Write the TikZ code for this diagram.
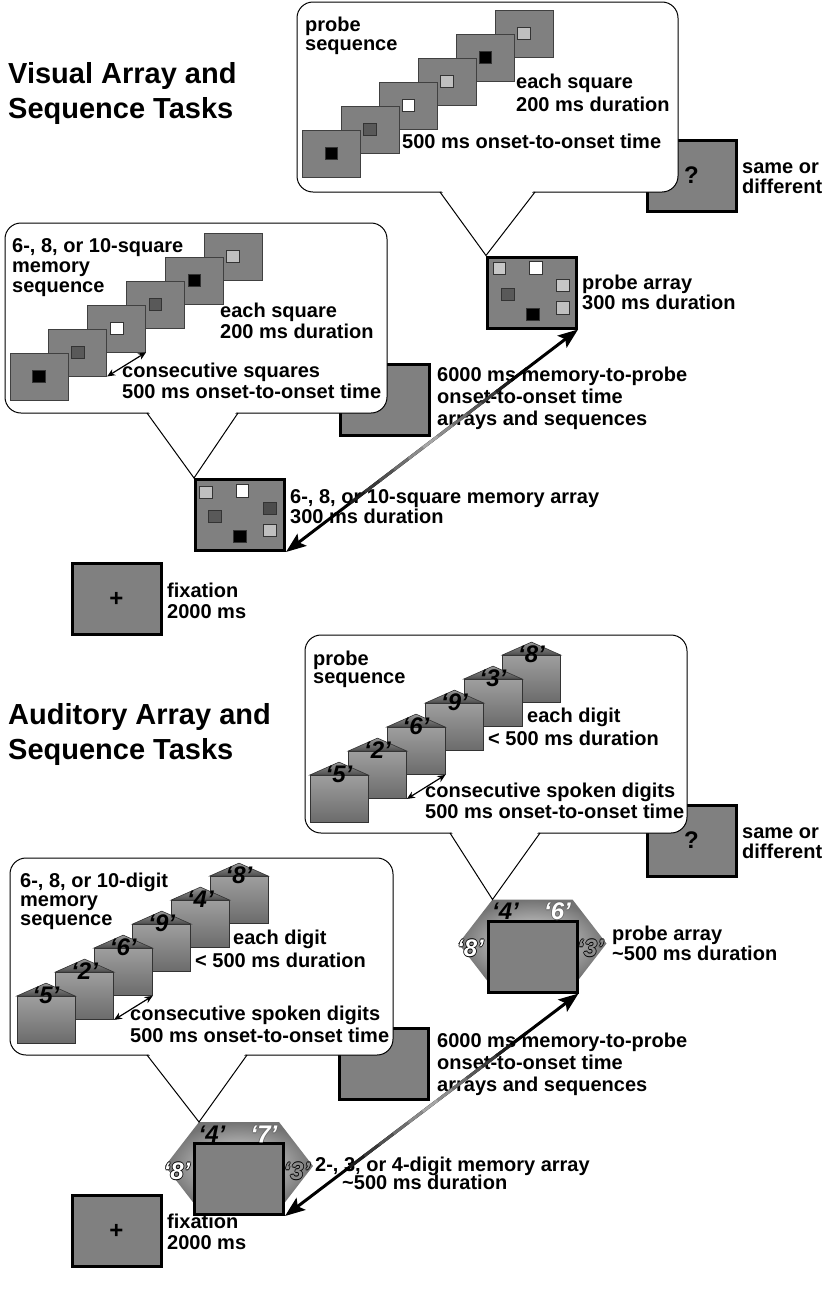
\documentclass[tikz,border=0pt]{standalone}
\usepackage{fontspec}
\setmainfont{Liberation Sans}
\usetikzlibrary{calc, positioning, arrows.meta, backgrounds}

% digit with a thin outline round it
\newcommand\outl[3]{\rlap{\color{#1}\kern-.8pt#3}\rlap{\color{#1}\kern.8pt#3}\rlap{\color{#1}\raisebox{.8pt}{#3}}\rlap{\color{#1}\raisebox{-.8pt}{#3}}\textcolor{#2}{#3}}

\tikzset{
  lbl/.style={font=\fontsize{20}{#1}\selectfont\bfseries, align=left, inner sep=0pt, anchor=base west},
  lbl/.default=21,
  ttl/.style={font=\fontsize{29}{35}\selectfont\bfseries, align=left, inner sep=0pt, anchor=base west},
  screen/.style={draw, line width=3pt, fill=black!50, minimum width=89pt, minimum height=71pt, inner sep=0pt, font=\fontsize{24}{24}\selectfont\bfseries},
  frame/.style={draw=black!75, line width=0.8pt, fill=black!50, minimum width=58pt, minimum height=47pt, inner sep=0pt},
  dot/.style={draw=black!80, line width=0.6pt, minimum size=12.5pt, inner sep=0pt},
  envl/.style={draw=black!80, line width=0.8pt, top color=black!38, bottom color=black!58, minimum width=58pt, minimum height=47pt, inner sep=0pt},
  flap/.style={draw=black!80, line width=0.6pt, top color=black!40, bottom color=black!70},
  digit/.style={font=\fontsize{24}{24}\selectfont\bfseries\itshape, inner sep=0pt},
  bubble/.style={draw, line width=1pt, fill=white, rounded corners=16pt},
  twoway/.style={line width=1.2pt, {Stealth[length=8pt,width=7pt]}-{Stealth[length=8pt,width=7pt]}},
  bigarrow/.style={line width=3pt, {Stealth[length=20pt,width=15pt,inset=4pt]}-{Stealth[length=20pt,width=15pt,inset=4pt]}},
}

\begin{document}
\begin{tikzpicture}[x=1pt, y=-1pt]
\useasboundingbox (0,0) rectangle (834,1301);

%% visual tasks (text nodes sit on the baseline of their last line)
\node[ttl] (vtitle) at (8,118) {Visual Array and\\Sequence Tasks};
\node[screen] (vq) at (691.5,175.5) {?};
\node[lbl=20] (vqtxt) at (742,193) {same or\\different};
\node[screen] (vd) at (385,400) {};
\node[lbl=22] (vdtxt) at (437,425) {6000 ms memory-to-probe\\onset-to-onset time\\arrays and sequences};
\node[screen] (vp) at (532,292.5) {};
\node[lbl=18] (vptxt) at (582,309) {probe array\\300 ms duration};
\node[screen] (vm) at (240,515) {};
\node[lbl=18] (vmtxt) at (290,523) {6-, 8, or 10-square memory array\\300 ms duration};
\node[screen] (vf) at (116.5,599) {+};
\node[lbl] (vftxt) at (167,618) {fixation\\2000 ms};
\foreach \dx/\dy/\c [count=\k] in {13.5/13/black!22,50/12.5/white,77/30/black!22,22/39/black!65,47/59/black,77/52.5/black!25}
  \node[dot, fill=\c] (vpa\k) at ($(vp.north west)+(\dx,\dy)$) {};
\foreach \dx/\dy/\c [count=\k] in {12/14.5/black!25,48.5/13/white,76/30.5/black!70,21/38.5/black!65,46/58.5/black,76/52.5/black!25}
  \node[dot, fill=\c] (vma\k) at ($(vm.north west)+(\dx,\dy)$) {};

% probe sequence
\draw[bubble] (297,2) rectangle (678,192);
\fill[white] (441,190) -- (vp.north west) -- (534,190) -- cycle;
\draw[line width=1pt] (440,192) -- (vp.north west) -- (535,192);
\foreach \i/\c in {6/black!25,5/black,4/black!25,3/white,2/black!65,1/black}{
  \node[frame] (vps\i) at ({331.5+(\i-1)*38.5},{153.5-(\i-1)*24}) {};
  \node[dot, fill=\c] (vpsd\i) at (vps\i) {};
}
\node[lbl=19] (vpstxt) at (305,50) {probe\\sequence};
\node[lbl=23] (vpeach) at (516,111) {each square\\200 ms duration};
\node[lbl] (vponset) at (402,148) {500 ms onset-to-onset time};

% memory sequence
\draw[bubble] (5,223) rectangle (387,413);
\fill[white] (148,411) -- (vm.north west) -- (237,411) -- cycle;
\draw[line width=1pt] (147,413) -- (vm.north west) -- (238,413);
\foreach \i/\c in {6/black!25,5/black,4/black!65,3/white,2/black!65,1/black}{
  \node[frame] (vms\i) at ({39+(\i-1)*38.8},{376.5-(\i-1)*24}) {};
  \node[dot, fill=\c] (vmsd\i) at (vms\i) {};
}
\draw[twoway] (vms2.south east) -- (vms3.south east);
\node[lbl=20] (vmstxt) at (12,292) {6-, 8, or 10-square\\memory\\sequence};
\node[lbl] (vmeach) at (220,338) {each square\\200 ms duration};
\node[lbl] (vmcons) at (122,398) {consecutive squares\\500 ms onset-to-onset time};

%% auditory tasks
\node[ttl] (atitle) at (8,759) {Auditory Array and\\Sequence Tasks};
\node[screen] (aq) at (691.5,840.5) {?};
\node[lbl=20] (aqtxt) at (742,858) {same or\\different};
\node[screen] (ad) at (383.5,1064) {};
\node[lbl=22] (adtxt) at (437,1091) {6000 ms memory-to-probe\\onset-to-onset time\\arrays and sequences};
\node[screen] (ap) at (532.5,956.5) {};
\node[lbl=18] (aptxt) at (612,960) {probe array\\\textasciitilde500 ms duration};
\node[screen] (am) at (239,1179) {};
\node[lbl] (amtxt) at (315,1171) {2-, 3, or 4-digit memory array};
\node[lbl] (amdur) at (342,1189) {\textasciitilde500 ms duration};
\node[screen] (af) at (116.5,1231) {+};
\node[lbl] (aftxt) at (167,1249) {fixation\\2000 ms};
\begin{scope}[on background layer]
\shade[inner color=black!8, outer color=black!55] ($(ap)+(-74,-13)$) -- ($(ap)+(-40,-57)$) -- ($(ap)+(40,-57)$) -- ($(ap)+(74,-13)$) -- ($(ap)+(40,31)$) -- ($(ap)+(-40,31)$) -- cycle;
\shade[inner color=black!8, outer color=black!55] ($(am)+(-74,-13)$) -- ($(am)+(-40,-57)$) -- ($(am)+(40,-57)$) -- ($(am)+(74,-13)$) -- ($(am)+(40,31)$) -- ($(am)+(-40,31)$) -- cycle;
\end{scope}
\coordinate (aphx) at ($(ap)+(-40,-57)$);
\coordinate (amhx) at ($(am)+(-40,-57)$);
\node[digit] (ap4) at ($(ap)+(-27,-45)$) {‘4’};
\node[digit] (ap6) at ($(ap)+(25,-45)$) {\outl{black!60}{white}{‘6’}};
\node[digit] (ap8) at ($(ap)+(-62,-8)$) {\outl{black}{white}{‘8’}};
\node[digit] (ap3) at ($(ap)+(58,-8)$) {\outl{black}{black!45}{‘3’}};
\node[digit] (am4) at ($(am)+(-27,-45)$) {‘4’};
\node[digit] (am7) at ($(am)+(25,-45)$) {\outl{black!60}{white}{‘7’}};
\node[digit] (am8) at ($(am)+(-62,-8)$) {\outl{black}{white}{‘8’}};
\node[digit] (am3) at ($(am)+(58,-8)$) {\outl{black}{black!45}{‘3’}};

% probe sequence
\draw[bubble] (305,635) rectangle (687,833);
\fill[white] (451,831) -- (aphx) -- (539,831) -- cycle;
\draw[line width=1pt] (450,833) -- (aphx) -- (540,833);
\foreach \i/\d in {6/8,5/3,4/9,3/6,2/2,1/5}{
  \node[envl] (aps\i) at ({339+(\i-1)*38.5},{799-(\i-1)*24}) {};
  \path[flap] (aps\i.north west) -- ($(aps\i.north)+(0,-13)$) -- (aps\i.north east) -- cycle;
  \node[digit] (apsd\i) at ($(aps\i.north)+(0,-1)$) {‘\d’};
}
\draw[twoway] (aps2.south east) -- (aps3.south east);
\node[lbl=18] (apstxt) at (313,683) {probe\\sequence};
\node[lbl] (apeach) at (527,722) {each digit};
\node[lbl] (apdur) at (488,745) {< 500 ms duration};
\node[lbl] (apcons) at (425,818) {consecutive spoken digits\\500 ms onset-to-onset time};

% memory sequence
\draw[bubble] (10,858) rectangle (393,1055);
\fill[white] (148,1053) -- (amhx) -- (246,1053) -- cycle;
\draw[line width=1pt] (147,1055) -- (amhx) -- (247,1055);
\foreach \i/\d in {6/8,5/4,4/9,3/6,2/2,1/5}{
  \node[envl] (ams\i) at ({46+(\i-1)*38.6},{1020-(\i-1)*24}) {};
  \path[flap] (ams\i.north west) -- ($(ams\i.north)+(0,-13)$) -- (ams\i.north east) -- cycle;
  \node[digit] (amsd\i) at ($(ams\i.north)+(0,-1)$) {‘\d’};
}
\draw[twoway] (ams2.south east) -- (ams3.south east);
\node[lbl=19] (amstxt) at (20,925) {6-, 8, or 10-digit\\memory\\sequence};
\node[lbl] (ameach) at (233,944) {each digit};
\node[lbl] (amdur2) at (195,967) {< 500 ms duration};
\node[lbl=22] (amcons) at (130,1042) {consecutive spoken digits\\500 ms onset-to-onset time};

%% memory-to-probe arrows, grey in the middle
\draw[bigarrow] (vm.south east) -- (vp.south east);
\draw[bigarrow] (am.south east) -- (ap.south east);
\foreach \k in {0,...,11}{
  \pgfmathsetmacro\ta{0.22+\k*0.05}
  \pgfmathsetmacro\tb{\ta+0.055}
  \pgfmathtruncatemacro\sh{35+65*abs(\ta+0.0275-0.5)/0.3}
  \draw[line width=3pt, black!\sh] ($(vm.south east)!\ta!(vp.south east)$) -- ($(vm.south east)!\tb!(vp.south east)$);
  \draw[line width=3pt, black!\sh] ($(am.south east)!\ta!(ap.south east)$) -- ($(am.south east)!\tb!(ap.south east)$);
}
\end{tikzpicture}
\end{document}
